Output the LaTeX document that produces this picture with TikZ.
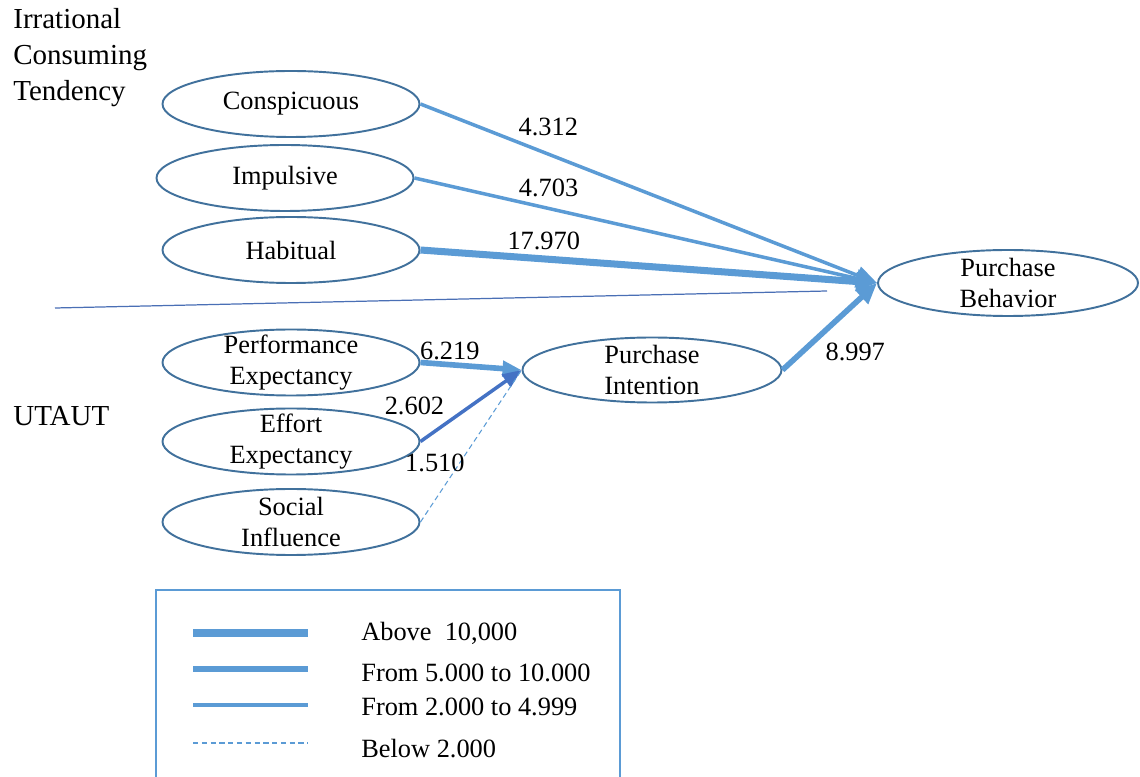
\documentclass[tikz,border=0pt]{standalone}
\usepackage{fontspec}
\setmainfont{Liberation Serif}
\usetikzlibrary{arrows.meta,shapes.geometric}

\definecolor{linkblue}{HTML}{5B9BD5}
\definecolor{ovalblue}{HTML}{41719C}
\definecolor{effortblue}{HTML}{4472C4}
\definecolor{ruleblue}{HTML}{4A6FB5}

\begin{document}
\begin{tikzpicture}[
    font=\fontsize{15}{17.6}\selectfont,
    oval/.style={ellipse, draw=ovalblue, line width=1.1pt, minimum width=5.14cm, minimum height=1.32cm, inner sep=0pt},
    twoline/.style={label={[align=center]center:#1}},
    wide/.style={draw=linkblue, line width=4pt},
    medium/.style={draw=linkblue, line width=3.2pt},
    thin/.style={draw=linkblue, line width=2pt},
    faint/.style={draw=linkblue, line width=0.6pt, dash pattern=on 3pt off 2pt},
    tobehavior/.style={-{Triangle[length=0.42cm, width=0.36cm]}},
    tointention/.style={-{Triangle[length=0.38cm, width=0.3cm]}},
  ]

  \useasboundingbox (0,0) rectangle (22.8,-15.54);

  % group titles
  \node [align=left, anchor=north west, inner sep=0pt, font=\fontsize{16.5}{20.4}\selectfont] (irrational) at (0.26,-0.16) {Irrational\\Consuming\\Tendency};
  \node [anchor=west, inner sep=0pt, font=\fontsize{16.5}{20.4}\selectfont] (utaut) at (0.26,-8.32) {UTAUT};

  % constructs
  \node [oval] (conspicuous) at (5.82,-2.08) {Conspicuous};
  \node [oval] (impulsive)   at (5.70,-3.56) {Impulsive};
  \node [oval] (habitual)    at (5.82,-5.00) {Habitual};

  \node [oval, twoline={Performance\\Expectancy}] (performance) at (5.82,-7.25)  {};
  \node [oval, twoline={Effort\\Expectancy}]      (effort)      at (5.82,-8.83)  {};
  \node [oval, twoline={Social\\Influence}]       (social)      at (5.82,-10.44) {};

  \node [oval, minimum width=5.18cm, minimum height=1.3cm, twoline={Purchase\\Intention}] (intention) at (13.04,-7.40) {};
  \node [oval, minimum width=5.2cm, twoline={Purchase\\Behavior}]                         (behavior)  at (20.16,-5.66) {};

  % divider between the two groups
  \draw [ruleblue, line width=0.7pt] (1.10,-6.16) -- (16.54,-5.82);

  % paths
  \draw [thin, tobehavior] (conspicuous.east) -- node[pos=0.28, yshift=0.54cm]{4.312} (behavior.west);
  \draw [thin, tobehavior] (impulsive.east) -- node[pos=0.29, yshift=0.42cm]{4.703} (behavior.west);
  \draw [wide, tobehavior] (habitual.east) -- node[pos=0.27, yshift=0.36cm]{17.970} (behavior.west);

  \draw [medium, tointention] (performance.east) -- node[pos=0.29, yshift=0.27cm]{6.219} (intention.west);
  \draw [thin, draw=effortblue, tointention] (effort.east) -- node[pos=0, xshift=-0.12cm, yshift=0.71cm]{2.602} (intention.west);
  \draw [faint] (social.east) -- node[pos=0.39, xshift=-0.5cm]{1.510} (intention.west);

  \draw [medium, tobehavior] (intention.east) -- node[pos=0.5, xshift=0.51cm, yshift=-0.51cm]{8.997} (behavior.west);

  % legend
  \node [rectangle, draw=linkblue, line width=1.3pt, minimum width=9.28cm, minimum height=4cm] (legend) at (7.76,-13.8) {};

  \draw [wide]   (3.86,-12.66) -- (6.16,-12.66);
  \draw [medium] (3.86,-13.38) -- (6.16,-13.38);
  \draw [thin]   (3.86,-14.10) -- (6.16,-14.10);
  \draw [faint]  (3.86,-14.86) -- (6.16,-14.86);

  \node [anchor=west, inner sep=0pt] (above)  at (7.22,-12.66) {Above\ \ 10,000};
  \node [anchor=west, inner sep=0pt] (high)   at (7.22,-13.46) {From 5.000 to 10.000};
  \node [anchor=west, inner sep=0pt] (middle) at (7.22,-14.14) {From 2.000 to 4.999};
  \node [anchor=west, inner sep=0pt] (below)  at (7.22,-14.98) {Below 2.000};

\end{tikzpicture}
\end{document}
